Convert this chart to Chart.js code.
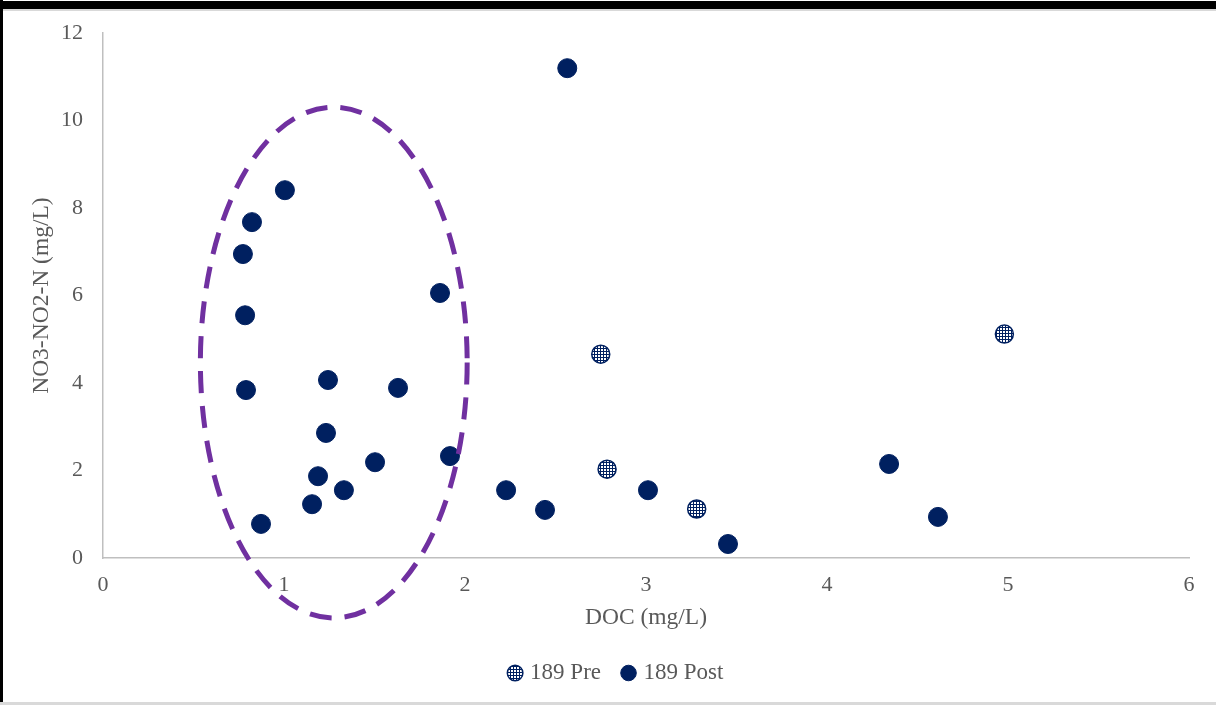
<!DOCTYPE html>
<html>
<head>
<meta charset="utf-8">
<script src="https://cdn.jsdelivr.net/npm/chart.js@4/dist/chart.umd.min.js"></script>
<style>
  body { margin: 0; background: #fff; }
  #wrap { position: relative; width: 1216px; height: 705px; overflow: hidden; }
  #chart { position: absolute; left: 0; top: 0; }
  .edge { position: absolute; pointer-events: none; }
</style>
</head>
<body>
<div id="wrap">
  <canvas id="chart" width="1216" height="705"></canvas>
  <div class="edge" style="left:0;top:1px;width:1216px;height:8px;background:#000"></div>
  <div class="edge" style="left:0;top:9px;width:1216px;height:2px;background:#d9d9d9"></div>
  <div class="edge" style="left:0;top:0;width:3px;height:705px;background:#000"></div>
  <div class="edge" style="left:0;top:702px;width:1216px;height:3px;background:#d9d9d9"></div>
</div>
<script>
// 189 Pre
const preDOC = [2.75, 2.785, 3.28, 4.98];
const preNO3 = [4.66, 2.03, 1.12, 5.12];

// 189 Post
const postDOC = [2.565, 1.005, 0.823, 0.773, 0.785, 0.79, 1.862, 1.243, 1.63, 1.232, 1.917,
                 1.503, 1.188, 1.155, 1.331, 0.873, 2.227, 2.442, 3.011, 3.453, 4.343, 4.613];
const postNO3 = [11.2, 8.41, 7.68, 6.95, 5.55, 3.84, 6.06, 4.07, 3.89, 2.86, 2.33,
                 2.19, 1.87, 1.23, 1.55, 0.78, 1.55, 1.10, 1.55, 0.32, 2.15, 0.94];

const seriesNames = ["189 Pre", "189 Post"];
const xTicks = [0, 1, 2, 3, 4, 5, 6];
const yTicks = [0, 2, 4, 6, 8, 10, 12];

// dashed ellipse drawn around the low-DOC cluster (data units)
const ellipseCenter = [1.275, 4.47];
const ellipseRadius = [0.737, 5.84];

const navy = "#002060";
const grey = "#595959";
const font = "'Liberation Serif', 'Times New Roman', serif";

function dotPattern() {
  const c = document.createElement("canvas");
  c.width = 3; c.height = 3;
  const g = c.getContext("2d");
  g.fillStyle = "#ffffff";
  g.fillRect(0, 0, 3, 3);
  g.fillStyle = navy;
  g.fillRect(0, 0, 3, 1);
  g.fillRect(0, 0, 1, 3);
  return g.createPattern(c, "repeat");
}
const prePattern = dotPattern();

const toPoints = (xs, ys) => xs.map((x, i) => ({ x: x, y: ys[i] }));

const ellipsePlugin = {
  id: "ellipse",
  afterDatasetsDraw(chart) {
    const xs = chart.scales.x, ys = chart.scales.y;
    const cx = xs.getPixelForValue(ellipseCenter[0]);
    const cy = ys.getPixelForValue(ellipseCenter[1]);
    const rx = xs.getPixelForValue(ellipseCenter[0] + ellipseRadius[0]) - cx;
    const ry = cy - ys.getPixelForValue(ellipseCenter[1] + ellipseRadius[1]);
    const ctx = chart.ctx;
    ctx.save();
    ctx.strokeStyle = "#7030a0";
    ctx.lineWidth = 5;
    ctx.setLineDash([22, 13]);
    ctx.beginPath();
    ctx.ellipse(cx, cy, rx, ry, 0, 0, Math.PI * 2);
    ctx.stroke();
    ctx.restore();
  }
};

// left padding pushes the centred legend right; the y axis box is shrunk to match
const padLeft = 46;

new Chart(document.getElementById("chart"), {
  type: "scatter",
  data: {
    datasets: [
      {
        label: seriesNames[0],
        data: toPoints(preDOC, preNO3),
        backgroundColor: prePattern,
        borderColor: navy,
        borderWidth: 1.5,
        pointRadius: 9,
        pointHoverRadius: 9
      },
      {
        label: seriesNames[1],
        data: toPoints(postDOC, postNO3),
        backgroundColor: navy,
        borderColor: navy,
        borderWidth: 1,
        pointRadius: 9.5,
        pointHoverRadius: 9.5
      }
    ]
  },
  options: {
    responsive: false,
    animation: false,
    layout: { padding: { left: padLeft, top: 33, right: 27, bottom: 10.5 } },
    plugins: {
      tooltip: { enabled: false },
      legend: {
        position: "bottom",
        labels: {
          usePointStyle: true,
          pointStyle: "circle",
          boxWidth: 7,
          boxHeight: 11,
          padding: 24,
          color: grey,
          font: { family: font, size: 23 }
        }
      }
    },
    scales: {
      x: {
        type: "linear",
        min: 0, max: 6,
        afterBuildTicks: s => { s.ticks = xTicks.map(v => ({ value: v })); },
        afterFit: s => { s.height = 79.5; },
        grid: { display: false, drawTicks: false },
        border: { display: true, color: "#bfbfbf", width: 1.5 },
        ticks: { padding: 14, color: grey, font: { family: font, size: 22 } },
        title: {
          display: true,
          text: "DOC (mg/L)",
          color: grey,
          font: { family: font, size: 23.5 },
          padding: { top: 0, bottom: 5.5 }
        }
      },
      y: {
        type: "linear",
        min: 0, max: 12,
        afterBuildTicks: s => { s.ticks = yTicks.map(v => ({ value: v })); },
        afterFit: s => { s.width = 103 - padLeft; },
        grid: { display: false, drawTicks: false },
        border: { display: true, color: "#bfbfbf", width: 1.5 },
        ticks: { padding: 20, color: grey, font: { family: font, size: 22 } },
        title: {
          display: true,
          text: "NO3-NO2-N (mg/L)",
          color: grey,
          font: { family: font, size: 23.5 },
          padding: { top: 42 - padLeft - 14.1, bottom: 0 }
        }
      }
    }
  },
  plugins: [ellipsePlugin]
});
</script>
</body>
</html>
